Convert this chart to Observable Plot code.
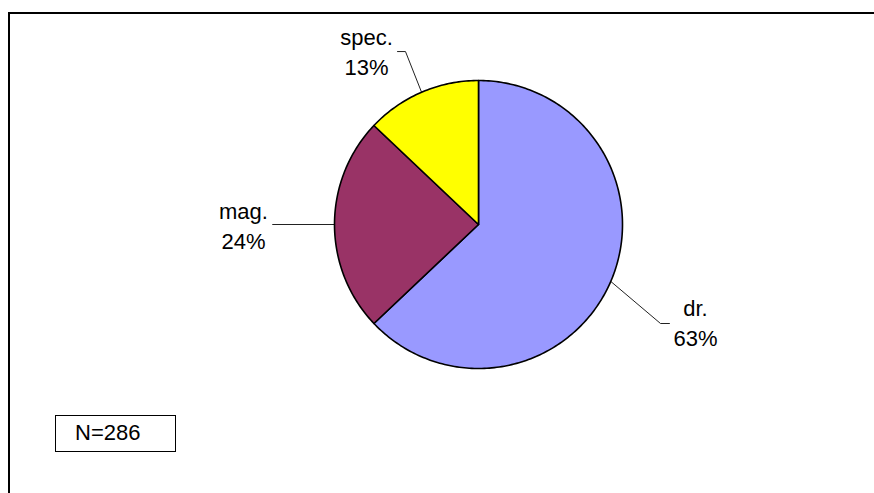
<!DOCTYPE html>
<html>
<head>
<meta charset="utf-8">
<script src="https://cdn.jsdelivr.net/npm/d3@7"></script>
<script src="https://cdn.jsdelivr.net/npm/@observablehq/plot@0.6"></script>
<style>
  html, body { margin: 0; padding: 0; background: #fff; overflow: hidden; }
  #wrap { position: relative; width: 874px; height: 493px; overflow: hidden; font-family: "Liberation Sans", Arial, sans-serif; }
  #frame { position: absolute; left: 8px; top: 12px; width: 900px; height: 520px; border: 2px solid #000; box-sizing: border-box; pointer-events: none; }
  #nbox { position: absolute; left: 55px; top: 415px; width: 121px; height: 37px; border: 1.5px solid #000; box-sizing: border-box; background: #fff;
          font-size: 22px; line-height: 34px; padding-left: 19px; color: #000; }
  #chart { position: absolute; left: 0; top: 0; }
</style>
</head>
<body>
<div id="wrap">
  <div id="chart"></div>
  <div id="frame"></div>
  <div id="nbox"></div>
</div>
<script>
// ---- data ----
const categories = ["dr.", "mag.", "spec."];
const counts = [180, 69, 37];
const colors = ["#9999FF", "#993366", "#FFFF00"];
const totalN = 286;

// ---- layout (unit coordinates, pie radius = 1) ----
const labelPos = {            // label centers
  "dr.":   [1.507, -0.674],
  "mag.":  [-1.632, 0.0],
  "spec.": [-0.778, 1.208]
};
const leaderElbow = {         // elbow and end points of leader lines
  "dr.":   [[1.264, -0.6875], [1.326, -0.6875]],
  "mag.":  [[-1.431, 0.0], [-1.431, 0.0]],
  "spec.": [[-0.507, 1.201], [-0.5625, 1.201]]
};

const total = d3.sum(counts);
const slices = [];
let cum = 0;
categories.forEach((c, i) => {
  const a0 = cum / total * 2 * Math.PI;
  cum += counts[i];
  const a1 = cum / total * 2 * Math.PI;
  slices.push({name: c, value: counts[i], a0, a1, pct: Math.round(counts[i] / total * 100) + "%"});
});

// slice polygons: center -> arc -> center (angle clockwise from 12 o'clock)
const polys = [];
for (const s of slices) {
  polys.push({name: s.name, x: 0, y: 0});
  const n = Math.max(8, Math.ceil((s.a1 - s.a0) / (Math.PI / 180)));
  for (let k = 0; k <= n; k++) {
    const a = s.a0 + (s.a1 - s.a0) * k / n;
    polys.push({name: s.name, x: Math.sin(a), y: Math.cos(a)});
  }
  polys.push({name: s.name, x: 0, y: 0});
}

// leader lines from slice mid-angle on the rim
const leaders = [];
for (const s of slices) {
  const m = (s.a0 + s.a1) / 2;
  leaders.push({name: s.name, x: Math.sin(m), y: Math.cos(m)});
  for (const p of leaderElbow[s.name]) leaders.push({name: s.name, x: p[0], y: p[1]});
}

const labels = slices.map(s => ({name: s.name, x: labelPos[s.name][0], y: labelPos[s.name][1], text: s.name + "\n" + s.pct}));

// pie center at (478,224) px, radius 144 px
const W = 874, H = 493, cx = 478, cy = 224, R = 144;

const chart = Plot.plot({
  width: W, height: H,
  margin: 0,
  x: {domain: [-cx / R, (W - cx) / R], range: [0, W], axis: null},
  y: {domain: [cy / R, -(H - cy) / R], range: [0, H], axis: null},
  color: {domain: categories, range: colors},
  style: {background: "transparent", fontFamily: "'Liberation Sans', Arial, sans-serif"},
  marks: [
    Plot.line(leaders, {x: "x", y: "y", z: "name", stroke: "#222", strokeWidth: 1, curve: "linear"}),
    Plot.line(polys, {x: "x", y: "y", z: "name", fill: "name", stroke: "#000", strokeWidth: 1.6, strokeLinejoin: "round", curve: "linear"}),
    Plot.text(labels, {x: "x", y: "y", text: "text", fontSize: 22, lineHeight: 1.35, lineAnchor: "middle", fill: "#000"})
  ]
});
document.getElementById("chart").appendChild(chart);
document.getElementById("nbox").textContent = "N=" + totalN;
</script>
</body>
</html>
